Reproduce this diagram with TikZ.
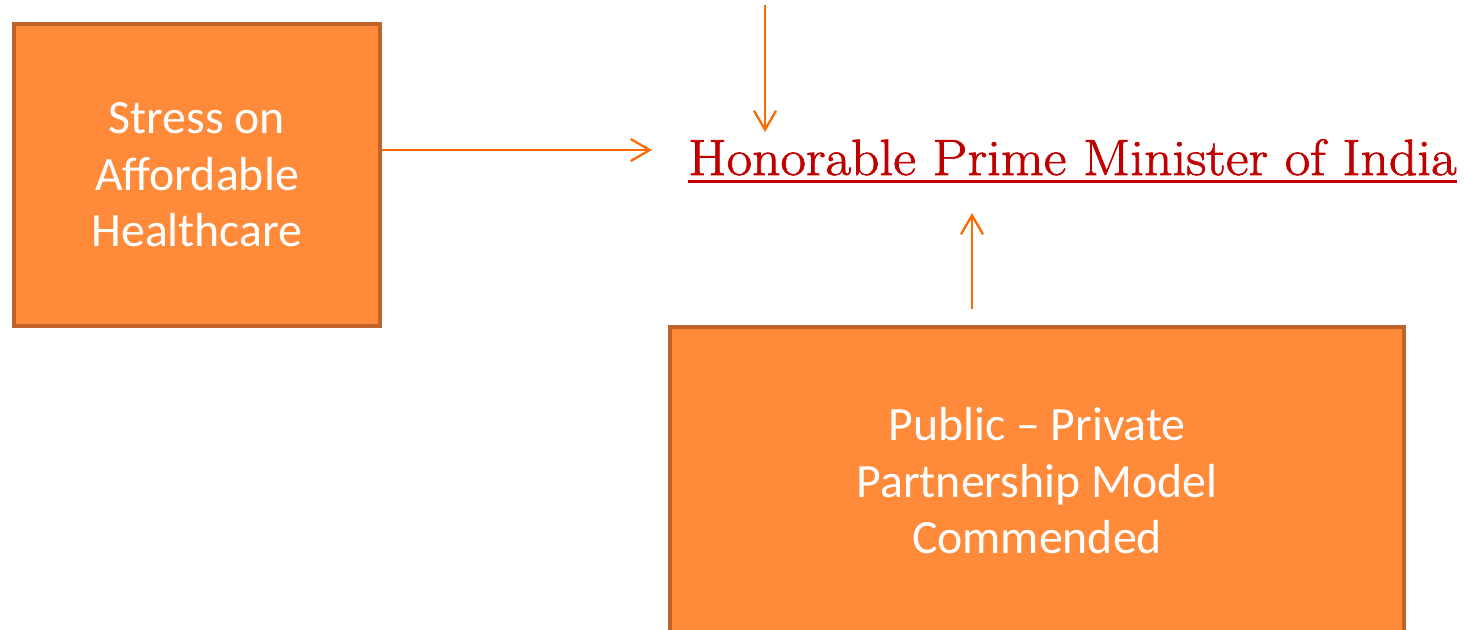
\documentclass[tikz,border=0pt]{standalone}
\usepackage{fontspec}
\newfontfamily\boxfont{Carlito}
\newfontfamily\titlefont[FakeStretch=1.088,FakeBold=1.4]{Latin Modern Roman}
\usetikzlibrary{arrows.meta,calc}
\definecolor{boxfill}{HTML}{FF8A3A}
\definecolor{boxedge}{HTML}{C0622A}
\definecolor{arrowc}{HTML}{FF6A00}
\definecolor{titlec}{HTML}{C00000}
\tikzset{
  orangebox/.style={draw=boxedge, fill=boxfill, line width=4pt, rectangle,
    text=white, align=center, inner sep=0pt,
    font=\boxfont\fontsize{47.8}{56.5}\selectfont},
  arr/.style={draw=arrowc, line width=2.3pt, -{Straight Barb[length=19pt,width=22pt,line width=2.3pt]}},
  titletext/.style={text=titlec, inner sep=0pt, font=\titlefont\fontsize{51}{60}\selectfont}
}
\begin{document}
\begin{tikzpicture}[x=1pt,y=-1pt]
\useasboundingbox (0,0) rectangle (1464,629);
\clip (0,0) rectangle (1464,629);
\node[orangebox, minimum width=366pt, minimum height=302pt] (lbox) at (197,175)
  {Stress on\\Affordable\\Healthcare};
\node[orangebox, minimum width=734pt, minimum height=308pt] (pbox) at (1037,481)
  {Public – Private\\Partnership Model\\Commended};
\node[titletext, anchor=base west] (title) at (688,175)
  {Honorable Prime Minister of India};
\draw[titlec, line width=3pt] ([yshift=-6pt]title.base west) -- ([yshift=-6pt]title.base east);
\coordinate (topin) at (765,5);
\draw[arr] ([yshift=25pt]lbox.east) -- ($(title.base west)+(-36,-25)$);
\draw[arr] (topin) -- ($(title.base west)+(77,-43)$);
\draw[arr] ($(pbox.north west)+(304,-16)$) -- ($(title.base west)+(284,38)$);
\end{tikzpicture}
\end{document}
